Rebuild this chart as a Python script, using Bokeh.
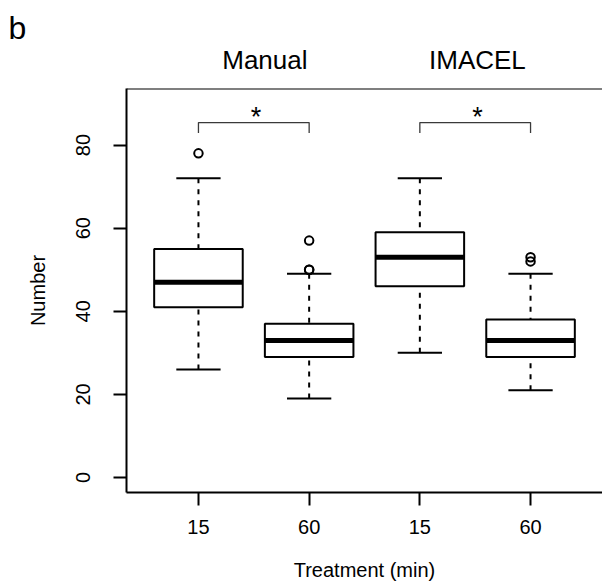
from bokeh.plotting import figure
from bokeh.models import ColumnDataSource, FixedTicker, Span, Range1d
from bokeh.layouts import column, row
from bokeh.core.properties import value
from bokeh.embed import file_html
from bokeh.resources import INLINE

# ---- data ----
positions = [1, 2, 3, 4]
tick_labels = ["15", "60", "15", "60"]
groups = ["Manual", "IMACEL"]
group_centers = [1.6, 3.52]
lower_whisker = [26, 19, 30, 21]
q1 = [41, 29, 46, 29]
median = [47, 33, 53, 33]
q3 = [55, 37, 59, 38]
upper_whisker = [72, 49, 72, 49]
outlier_x = [1, 2, 2, 2, 4, 4]
outlier_y = [78, 57, 50, 50, 53, 52]
bracket_pairs = [(1, 2), (3, 4)]
star_x = [1.52, 3.52]
bracket_top = 85.4
bracket_bottom = 82.9
panel_letter = "b"

FONT = "Liberation Sans"
BOX_W = 0.8
CAP_W = 0.4
X0, X1 = 0.35, 4.65
LEFT = 126
TOP_H = 86


def bare(fig):
    fig.outline_line_color = None
    fig.grid.visible = False
    fig.background_fill_color = "white"
    fig.border_fill_color = "white"
    return fig


# ---- header: panel letter strip + group titles strip ----
letter = bare(figure(width=LEFT, height=TOP_H, output_backend="svg", toolbar_location=None,
                     x_range=Range1d(0, LEFT), y_range=Range1d(0, TOP_H),
                     x_axis_location=None, y_axis_location=None,
                     min_border_left=0, min_border_right=0, min_border_top=0,
                     min_border_bottom=0))
letter.text(x=[8], y=[TOP_H - 39], text=[panel_letter], text_align="left",
            text_baseline="alphabetic", y_offset=-12, text_font=value(FONT),
            text_font_size="32px", text_color="black")

top = bare(figure(width=602 - LEFT, height=TOP_H, output_backend="svg", toolbar_location=None,
                  x_range=Range1d(X0, X1), y_range=Range1d(0, TOP_H),
                  x_axis_location=None, y_axis_location=None,
                  min_border_left=0, min_border_right=0, min_border_top=0,
                  min_border_bottom=0))
top.text(x=group_centers, y=[TOP_H - 69.3] * len(groups), text=groups,
         text_align="center", text_baseline="alphabetic", y_offset=-10,
         text_font=value(FONT), text_font_size="26px", text_color="black")

# ---- main plot ----
p = bare(figure(width=602, height=586 - TOP_H, output_backend="svg", toolbar_location=None,
                x_range=Range1d(X0, X1), y_range=Range1d(-3.6, 93.6),
                min_border_left=LEFT, min_border_right=0, min_border_top=2,
                min_border_bottom=94))

src = ColumnDataSource(dict(x=positions, lw=lower_whisker, q1=q1, med=median,
                            q3=q3, uw=upper_whisker,
                            xl=[x - BOX_W / 2 for x in positions],
                            xr=[x + BOX_W / 2 for x in positions],
                            cl=[x - CAP_W / 2 for x in positions],
                            cr=[x + CAP_W / 2 for x in positions]))

# whiskers (dashed), from caps to box
p.segment(x0="x", y0="uw", x1="x", y1="q3", source=src, line_color="black",
          line_width=2, line_dash="5 6")
p.segment(x0="x", y0="lw", x1="x", y1="q1", source=src, line_color="black",
          line_width=2, line_dash="5 6")
# caps
p.segment(x0="cl", y0="uw", x1="cr", y1="uw", source=src, line_color="black", line_width=2)
p.segment(x0="cl", y0="lw", x1="cr", y1="lw", source=src, line_color="black", line_width=2)
# boxes
p.vbar(x="x", top="q3", bottom="q1", width=BOX_W, source=src, fill_color="white",
       line_color="black", line_width=2)
# medians
p.segment(x0="xl", y0="med", x1="xr", y1="med", source=src, line_color="black",
          line_width=5, line_cap="butt")
# outliers
p.scatter(outlier_x, outlier_y, marker="circle", size=8.5, fill_color=None,
          line_color="black", line_width=2)

# significance brackets
bx, by = [], []
for a, b in bracket_pairs:
    bx.append([a, a, b, b])
    by.append([bracket_bottom, bracket_top, bracket_top, bracket_bottom])
p.multi_line(bx, by, line_color="#3a3a3a", line_width=1.3)
p.text(x=star_x, y=[bracket_top] * len(star_x), text=["*"] * len(star_x),
       text_align="center", text_baseline="alphabetic", y_offset=-6,
       text_font=value(FONT), text_font_size="27px", text_color="black")

# top border line
p.add_layout(Span(location=93.6, dimension="width", line_color="black", line_width=2))

# axes
for ax in (p.xaxis[0], p.yaxis[0]):
    ax.axis_line_width = 2
    ax.axis_line_color = "black"
    ax.major_tick_in = 0
    ax.major_tick_out = 13
    ax.major_tick_line_width = 2
    ax.major_tick_line_color = "black"
    ax.minor_tick_line_color = None
    ax.major_label_text_font = FONT
    ax.major_label_text_font_size = "20px"
    ax.major_label_text_color = "black"
    ax.axis_label_text_font = FONT
    ax.axis_label_text_font_size = "20px"
    ax.axis_label_text_font_style = "normal"
    ax.axis_label_text_color = "black"

p.xaxis.ticker = FixedTicker(ticks=positions)
p.xaxis.major_label_overrides = {x: t for x, t in zip(positions, tick_labels)}
p.xaxis.major_label_standoff = 14
p.xaxis.axis_label = "Treatment (min)"
p.xaxis.axis_label_standoff = 22

p.yaxis.ticker = FixedTicker(ticks=[0, 20, 40, 60, 80])
p.yaxis.major_label_orientation = "vertical"
p.yaxis.major_label_standoff = 23
p.yaxis.axis_label = "Number"
p.yaxis.axis_label_standoff = 25

layout = column(row(letter, top, spacing=0), p, spacing=0)
open("out.html", "w").write(file_html(layout, INLINE))
